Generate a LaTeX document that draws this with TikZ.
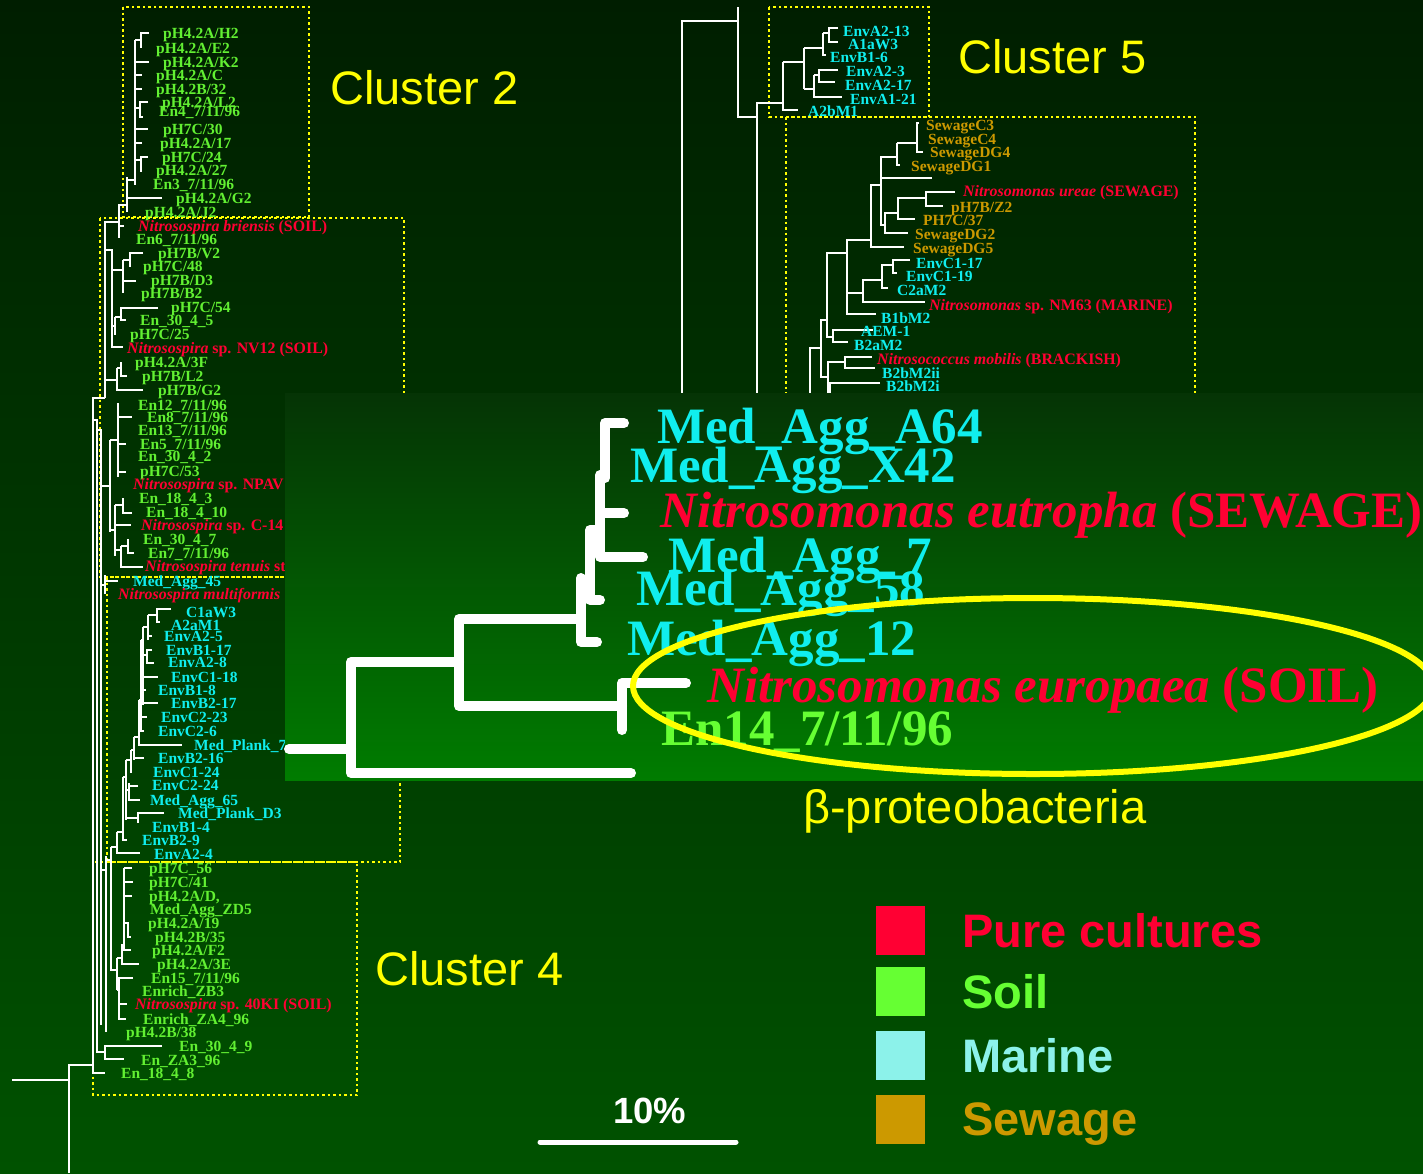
\documentclass[tikz,border=0pt]{standalone}
\usepackage{fontspec}
\setmainfont{Liberation Serif}
\newfontfamily\arialf{Liberation Sans}
\definecolor{bgTop}{HTML}{001E00}
\definecolor{bgBot}{HTML}{005200}
\definecolor{pnTop}{HTML}{053405}
\definecolor{pnBot}{HTML}{007C00}
\definecolor{soilG}{HTML}{62F032}
\definecolor{soilL}{HTML}{66FF33}
\definecolor{marC}{HTML}{10EEEE}
\definecolor{marL}{HTML}{8CF2EA}
\definecolor{sewC}{HTML}{CC9900}
\definecolor{pureR}{HTML}{FF0033}
\definecolor{ylw}{HTML}{FFFF00}
\newcommand\smallf{\fontsize{15.5}{15.5}\selectfont\bfseries}
\newcommand\redf{\fontsize{15.9}{15.9}\selectfont\bfseries}
\newcommand\bigf{\fontsize{51}{51}\selectfont\bfseries}
\tikzset{
 lab/.style={anchor=base west, inner sep=0pt, font=\smallf},
 soil/.style={lab, text=soilG},
 mar/.style={lab, text=marC},
 sew/.style={lab, text=sewC},
 pur/.style={lab, text=pureR, font=\redf},
 big/.style={anchor=base west, inner sep=0pt, font=\bigf},
 br/.style={draw=white, line width=2.4pt},
 pb/.style={draw=white, line width=10pt, line cap=round, line join=round},
 dotbox/.style={draw=ylw, line width=2.5pt, dash pattern=on 2.5pt off 3pt},
 clu/.style={anchor=base west, inner sep=0pt, text=ylw, font=\arialf\fontsize{47}{47}\selectfont},
 leg/.style={anchor=base west, inner sep=0pt, font=\arialf\bfseries\fontsize{47}{47}\selectfont},
}
\begin{document}
\begin{tikzpicture}[x=1pt,y=-1pt]
\useasboundingbox (0,0) rectangle (1423,1173);
\shade[top color=bgTop,bottom color=bgBot] (0,0) rectangle (1423,1173);

% ---------- dotted cluster boxes ----------
\draw[dotbox] (123,7) rectangle (309,217);
\draw[dotbox] (100,218) rectangle (404,577);
\draw[dotbox] (107,577) rectangle (400,862);
\draw[dotbox] (93,862) rectangle (357,1095);
\draw[dotbox] (769,7) rectangle (929,117);
\draw[dotbox] (786,117) rectangle (1195,430);

% ---------- left tree ----------
% cluster 2
\draw[br] (135,40) -- (135,185);
\draw[br] (135,40) -- (141,40);
\draw[br] (149,33) -- (141,33) -- (141,48);
\draw[br] (135,62) -- (149,62);
\draw[br] (135,75) -- (142,75);
\draw[br] (135,89) -- (142,89);
\draw[br] (135,108) -- (140,108);
\draw[br] (148,102) -- (140,102) -- (140,117) -- (143,117);
\draw[br] (135,129) -- (148,129);
\draw[br] (135,143) -- (142,143);
\draw[br] (135,160) -- (141,160);
\draw[br] (148,157) -- (141,157) -- (141,172);
\draw[br] (135,180) -- (127,180);
\draw[br] (127,177) -- (127,212);
\draw[br] (127,198) -- (162,198);
\draw[br] (127,205) -- (119,205) -- (119,238);
\draw[br] (119,226) -- (124,226);
\draw[br] (119,222) -- (105,222) -- (105,398);
% cluster 3 upper
\draw[br] (105,250) -- (112,250) -- (112,347) -- (123,347);
\draw[br] (112,270) -- (123,270);
\draw[br] (123,260) -- (123,293);
\draw[br] (123,260) -- (130,260);
\draw[br] (143,253) -- (130,253) -- (130,267);
\draw[br] (123,281) -- (136,281);
\draw[br] (112,326) -- (115,326);
\draw[br] (115,317) -- (115,335);
\draw[br] (115,317) -- (121,317);
\draw[br] (158,308) -- (121,308) -- (121,320) -- (126,320);
\draw[br] (105,380) -- (117,380);
\draw[br] (117,368) -- (117,390) -- (143,390);
\draw[br] (117,368) -- (121,368);
\draw[br] (121,362) -- (121,376) -- (127,376);
% deep backbones
\draw[br] (105,398) -- (93,398) -- (93,1073) -- (105,1073);
\draw[br] (93,420) -- (97,420) -- (97,1052) -- (105,1052);
\draw[br] (162,1046) -- (105,1046) -- (105,1059) -- (124,1059);
\draw[br] (97,430) -- (101,430) -- (101,1025);
% cluster 3 lower
\draw[br] (101,486) -- (110,486);
\draw[br] (110,440) -- (110,532);
\draw[br] (110,440) -- (118,440);
\draw[br] (118,403) -- (118,477);
\draw[br] (118,417) -- (132,417);
\draw[br] (118,444) -- (126,444);
\draw[br] (118,472) -- (126,472);
\draw[br] (110,530) -- (115,530);
\draw[br] (115,505) -- (115,556);
\draw[br] (115,505) -- (123,505);
\draw[br] (123,498) -- (123,513) -- (132,513);
\draw[br] (115,525) -- (131,525);
\draw[br] (115,550) -- (121,550);
\draw[br] (121,546) -- (121,567) -- (143,567);
\draw[br] (121,546) -- (128,546);
\draw[br] (128,539) -- (128,553) -- (134,553);
\draw[br] (101,585) -- (105,585);
\draw[br] (105,575) -- (105,594);
\draw[br] (105,581) -- (118,581);
% marine cluster
\draw[br] (171,609) -- (157,609) -- (157,622) -- (160,622);
\draw[br] (148,615) -- (157,615);
\draw[br] (148,615) -- (148,640);
\draw[br] (148,636) -- (152,636);
\draw[br] (143,627) -- (148,627);
\draw[br] (143,627) -- (143,705);
\draw[br] (143,655) -- (147,655);
\draw[br] (152,650) -- (147,650) -- (147,663) -- (154,663);
\draw[br] (143,677) -- (158,677);
\draw[br] (143,690) -- (146,690);
\draw[br] (143,703) -- (158,703);
\draw[br] (141,640) -- (143,640);
\draw[br] (141,640) -- (141,731) -- (144,731);
\draw[br] (141,717) -- (147,717);
\draw[br] (139,700) -- (141,700);
\draw[br] (139,700) -- (139,745) -- (182,745);
\draw[br] (134,737) -- (139,737);
\draw[br] (134,737) -- (134,760);
\draw[br] (134,758) -- (144,758);
\draw[br] (131,750) -- (134,750);
\draw[br] (131,750) -- (131,773);
\draw[br] (126,760) -- (131,760);
\draw[br] (126,760) -- (126,820);
\draw[br] (126,790) -- (129,790);
\draw[br] (129,783) -- (129,800) -- (140,800);
\draw[br] (129,786) -- (138,786);
\draw[br] (126,818) -- (138,818);
\draw[br] (164,813) -- (138,813) -- (138,823);
\draw[br] (123,777) -- (126,777);
\draw[br] (123,777) -- (123,840) -- (127,840);
\draw[br] (117,832) -- (123,832);
\draw[br] (117,832) -- (117,853) -- (140,853);
\draw[br] (111,847) -- (117,847);
\draw[br] (111,847) -- (111,970) -- (117,970);
\draw[br] (106,860) -- (111,860);
\draw[br] (101,870) -- (106,870);
\draw[br] (106,856) -- (106,1032);
% cluster 4
\draw[br] (117,958) -- (117,990);
\draw[br] (117,958) -- (122,958);
\draw[br] (124,945) -- (122,945) -- (122,964) -- (139,964);
\draw[br] (124,868) -- (124,950) -- (131,950);
\draw[br] (124,868) -- (132,868);
\draw[br] (124,882) -- (133,882);
\draw[br] (124,896) -- (132,896);
\draw[br] (124,923) -- (128,923) -- (128,937) -- (131,937);
\draw[br] (117,990) -- (119,990);
\draw[br] (133,978) -- (119,978) -- (119,1019) -- (126,1019);
\draw[br] (119,1004) -- (127,1004);
% root
\draw[br] (12,1080) -- (69,1080);
\draw[br] (69,1173) -- (69,1065) -- (93,1065);

% ---------- top-right trees ----------
\draw[br] (682,393) -- (682,21) -- (738,21);
\draw[br] (738,7) -- (738,117) -- (757,117);
\draw[br] (757,393) -- (757,103) -- (783,103);
\draw[br] (783,62) -- (783,110) -- (798,110);
\draw[br] (783,62) -- (804,62);
\draw[br] (804,48) -- (804,89);
\draw[br] (804,48) -- (823,48);
\draw[br] (823,33) -- (823,55) -- (826,55);
\draw[br] (823,33) -- (829,33);
\draw[br] (838,28) -- (829,28) -- (829,42) -- (838,42);
\draw[br] (804,89) -- (814,89);
\draw[br] (814,75) -- (814,97) -- (842,97);
\draw[br] (814,75) -- (819,75);
\draw[br] (838,70) -- (819,70) -- (819,82) -- (835,82);
% sewage clade
\draw[br] (919,123) -- (917,123) -- (917,152) -- (923,152);
\draw[br] (897,143) -- (917,143);
\draw[br] (897,143) -- (897,165) -- (900,165);
\draw[br] (897,157) -- (881,157) -- (881,225) -- (885,225);
\draw[br] (881,178) -- (932,178);
\draw[br] (898,213) -- (885,213) -- (885,233) -- (908,233);
\draw[br] (926,198) -- (898,198) -- (898,219) -- (915,219);
\draw[br] (955,192) -- (926,192) -- (926,206) -- (943,206);
\draw[br] (881,185) -- (871,185) -- (871,247) -- (904,247);
\draw[br] (871,240) -- (847,240) -- (847,314) -- (876,314);
\draw[br] (847,293) -- (863,293);
\draw[br] (882,280) -- (863,280) -- (863,302) -- (925,302);
\draw[br] (893,265) -- (882,265) -- (882,288) -- (888,288);
\draw[br] (910,260) -- (893,260) -- (893,273) -- (897,273);
\draw[br] (847,253) -- (827,253) -- (827,337) -- (833,337);
\draw[br] (873,330) -- (833,330) -- (833,342) -- (848,342);
\draw[br] (827,320) -- (821,320) -- (821,377) -- (828,377);
\draw[br] (828,393) -- (828,362) -- (845,362);
\draw[br] (872,357) -- (845,357) -- (845,368) -- (875,368);
\draw[br] (880,383) -- (830,383) -- (830,393);
\draw[br] (821,348) -- (810,348) -- (810,393);

% ---------- left labels ----------
\node[soil] (n1) at (163,38) {pH4.2A/H2};
\node[soil] (n2) at (156,53) {pH4.2A/E2};
\node[soil] (n3) at (163,67) {pH4.2A/K2};
\node[soil] (n4) at (156,80) {pH4.2A/C};
\node[soil] (n5) at (156,94) {pH4.2B/32};
\node[soil] (n6) at (162,107) {pH4.2A/L2};
\node[soil] (n7) at (159,116) {En4\_7/11/96};
\node[soil] (n8) at (163,134) {pH7C/30};
\node[soil] (n9) at (160,148) {pH4.2A/17};
\node[soil] (n10) at (162,162) {pH7C/24};
\node[soil] (n11) at (156,175) {pH4.2A/27};
\node[soil] (n12) at (153,189) {En3\_7/11/96};
\node[soil] (n13) at (176,203) {pH4.2A/G2};
\node[soil] (n14) at (145,217) {pH4.2A/J2};
\node[pur] (n15) at (138,231) {{\itshape Nitrosospira briensis} (SOIL)};
\node[soil] (n16) at (136,244) {En6\_7/11/96};
\node[soil] (n17) at (158,258) {pH7B/V2};
\node[soil] (n18) at (143,271) {pH7C/48};
\node[soil] (n19) at (151,285) {pH7B/D3};
\node[soil] (n20) at (141,298) {pH7B/B2};
\node[soil] (n21) at (171,312) {pH7C/54};
\node[soil] (n22) at (140,325) {En\_30\_4\_5};
\node[soil] (n23) at (130,339) {pH7C/25};
\node[pur] (n24) at (127,353) {{\itshape Nitrosospira} sp. NV12 (SOIL)};
\node[soil] (n25) at (135,367) {pH4.2A/3F};
\node[soil] (n26) at (142,381) {pH7B/L2};
\node[soil] (n27) at (158,395) {pH7B/G2};
\node[soil] (n28) at (138,410) {En12\_7/11/96};
\node[soil] (n29) at (147,422) {En8\_7/11/96};
\node[soil] (n30) at (138,435) {En13\_7/11/96};
\node[soil] (n31) at (140,449) {En5\_7/11/96};
\node[soil] (n32) at (138,461) {En\_30\_4\_2};
\node[soil] (n33) at (140,476) {pH7C/53};
\node[pur] (n34) at (133,489) {{\itshape Nitrosospira} sp. NPAV};
\node[soil] (n35) at (139,503) {En\_18\_4\_3};
\node[soil] (n36) at (146,517) {En\_18\_4\_10};
\node[pur] (n37) at (141,530) {{\itshape Nitrosospira} sp. C-14};
\node[soil] (n38) at (143,544) {En\_30\_4\_7};
\node[soil] (n39) at (148,558) {En7\_7/11/96};
\node[pur] (n40) at (145,571) {{\itshape Nitrosospira tenuis} st};
\node[mar] (n41) at (133,586) {Med\_Agg\_45};
\node[pur] (n42) at (118,599) {{\itshape Nitrosospira multiformis}};
\node[mar] (n43) at (186,617) {C1aW3};
\node[mar] (n44) at (171,630) {A2aM1};
\node[mar] (n45) at (164,641) {EnvA2-5};
\node[mar] (n46) at (166,655) {EnvB1-17};
\node[mar] (n47) at (168,667) {EnvA2-8};
\node[mar] (n48) at (171,682) {EnvC1-18};
\node[mar] (n49) at (158,695) {EnvB1-8};
\node[mar] (n50) at (171,708) {EnvB2-17};
\node[mar] (n51) at (161,722) {EnvC2-23};
\node[mar] (n52) at (158,736) {EnvC2-6};
\node[mar] (n53) at (194,750) {Med\_Plank\_7};
\node[mar] (n54) at (158,763) {EnvB2-16};
\node[mar] (n55) at (153,777) {EnvC1-24};
\node[mar] (n56) at (152,790) {EnvC2-24};
\node[mar] (n57) at (150,805) {Med\_Agg\_65};
\node[mar] (n58) at (178,818) {Med\_Plank\_D3};
\node[mar] (n59) at (152,832) {EnvB1-4};
\node[mar] (n60) at (142,845) {EnvB2-9};
\node[mar] (n61) at (154,859) {EnvA2-4};
\node[soil] (n62) at (149,873) {pH7C\_56};
\node[soil] (n63) at (149,887) {pH7C/41};
\node[soil] (n64) at (149,901) {pH4.2A/D,};
\node[soil] (n65) at (150,914) {Med\_Agg\_ZD5};
\node[soil] (n66) at (148,928) {pH4.2A/19};
\node[soil] (n67) at (155,942) {pH4.2B/35};
\node[soil] (n68) at (152,955) {pH4.2A/F2};
\node[soil] (n69) at (157,969) {pH4.2A/3E};
\node[soil] (n70) at (151,983) {En15\_7/11/96};
\node[soil] (n71) at (142,996) {Enrich\_ZB3};
\node[pur] (n72) at (135,1009) {{\itshape Nitrosospira} sp. 40KI (SOIL)};
\node[soil] (n73) at (143,1024) {Enrich\_ZA4\_96};
\node[soil] (n74) at (126,1037) {pH4.2B/38};
\node[soil] (n75) at (179,1051) {En\_30\_4\_9};
\node[soil] (n76) at (141,1065) {En\_ZA3\_96};
\node[soil] (n77) at (121,1078) {En\_18\_4\_8};

% ---------- top-right labels ----------
\node[mar] (t1) at (843,36) {EnvA2-13};
\node[mar] (t2) at (848,49) {A1aW3};
\node[mar] (t3) at (830,62) {EnvB1-6};
\node[mar] (t4) at (846,76) {EnvA2-3};
\node[mar] (t5) at (845,90) {EnvA2-17};
\node[mar] (t6) at (850,104) {EnvA1-21};
\node[mar] (t7) at (808,116) {A2bM1};
\node[sew] (s1) at (926,130) {SewageC3};
\node[sew] (s2) at (928,144) {SewageC4};
\node[sew] (s3) at (930,157) {SewageDG4};
\node[sew] (s4) at (911,171) {SewageDG1};
\node[pur] (s5) at (963,196) {{\itshape Nitrosomonas ureae} (SEWAGE)};
\node[sew] (s6) at (951,212) {pH7B/Z2};
\node[sew] (s7) at (923,225) {PH7C/37};
\node[sew] (s8) at (915,239) {SewageDG2};
\node[sew] (s9) at (913,253) {SewageDG5};
\node[mar] (s10) at (916,268) {EnvC1-17};
\node[mar] (s11) at (906,281) {EnvC1-19};
\node[mar] (s12) at (897,295) {C2aM2};
\node[pur] (s13) at (929,310) {{\itshape Nitrosomonas} sp. NM63 (MARINE)};
\node[mar] (s14) at (881,323) {B1bM2};
\node[mar] (s15) at (861,336) {AEM-1};
\node[mar] (s16) at (854,350) {B2aM2};
\node[pur] (s17) at (877,364) {{\itshape Nitrosococcus mobilis} (BRACKISH)};
\node[mar] (s18) at (882,378) {B2bM2ii};
\node[mar] (s19) at (886,391) {B2bM2i};

% ---------- cluster captions ----------
\node[clu] (c2) at (330,104) {Cluster 2};
\node[clu] (c5) at (958,73) {Cluster 5};
\node[clu] (c4) at (375,985) {Cluster 4};

% ---------- enlarged panel ----------
\shade[top color=pnTop,bottom color=pnBot] (285,393) rectangle (1423,780);
\draw[pb] (289,749) -- (351,749);
\draw[pb] (631,773) -- (351,773) -- (351,662) -- (459,662);
\draw[pb] (581,619) -- (459,619) -- (459,706) -- (622,706);
\draw[pb] (686,683) -- (622,683) -- (622,730);
\draw[pb] (597,642) -- (581,642) -- (581,578);
\draw[pb] (581,590) -- (590,590);
\draw[pb] (600,530) -- (590,530) -- (590,600) -- (600,600);
\draw[pb] (643,557) -- (600,557) -- (600,475);
\draw[pb] (600,513) -- (624,513);
\draw[pb] (600,478) -- (605,478) -- (605,423) -- (624,423);

\node[big, text=marC] (b1) at (657,443) {Med\_Agg\_A64};
\node[big, text=marC] (b2) at (630,482) {Med\_Agg\_X42};
\node[big, text=pureR] (b3) at (660,527) {{\itshape Nitrosomonas eutropha} (SEWAGE)};
\node[big, text=marC] (b4) at (668,572) {Med\_Agg\_7};
\node[big, text=marC] (b5) at (636,605) {Med\_Agg\_58};
\node[big, text=marC] (b6) at (627,655) {Med\_Agg\_12};
\node[big, text=pureR] (b7) at (707,702) {{\itshape Nitrosomonas europaea} (SOIL)};
\node[big, text=soilL] (b8) at (661,745) {En14\_7/11/96};

\draw[draw=ylw, line width=6pt] (1033,686) ellipse [x radius=400, y radius=88];

\node[clu] (beta) at (803,823) {β-proteobacteria};

% ---------- scale bar ----------
\node[anchor=base west, inner sep=0pt, text=white, font=\arialf\bfseries\fontsize{36.5}{36.5}\selectfont] (sc) at (613,1123) {10\%};
\coordinate (sbA) at (540,1142);
\coordinate (sbB) at (736,1142);
\draw[white, line width=5pt, line cap=round] (sbA) -- (sbB);

% ---------- legend ----------
\fill[pureR] (876,906) rectangle (925,955);
\fill[soilL] (876,967) rectangle (925,1016);
\fill[marL] (876,1031) rectangle (925,1080);
\fill[sewC] (876,1095) rectangle (925,1144);
\node[leg, text=pureR] (l1) at (962,947) {Pure cultures};
\node[leg, text=soilL] (l2) at (962,1008) {Soil};
\node[leg, text=marL] (l3) at (962,1072) {Marine};
\node[leg, text=sewC] (l4) at (962,1135) {Sewage};
\end{tikzpicture}
\end{document}
